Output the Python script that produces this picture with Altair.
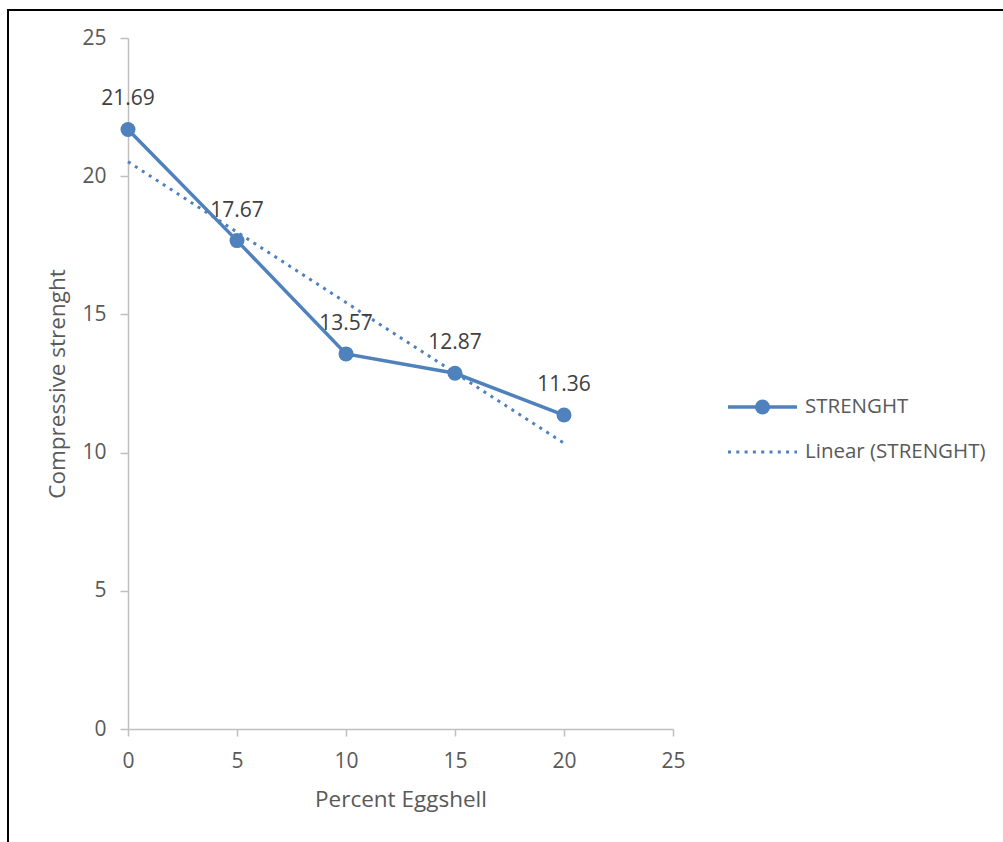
import altair as alt
import pandas as pd

# Compressive strength by eggshell replacement percentage
percent_eggshell = [0, 5, 10, 15, 20]
strength = [21.69, 17.67, 13.57, 12.87, 11.36]
axis_ticks = [0, 5, 10, 15, 20, 25]

BLUE = "#4F81BD"
GREY_TEXT = "#595959"
DARK_TEXT = "#404040"
AXIS_GREY = "#BFBFBF"
FONT = "Open Sans"

W, H = 545, 691
PAD_L, PAD_T = 128, 38
MARKER = 225

df = pd.DataFrame({"pct": percent_eggshell, "strength": strength})

x_enc = alt.X(
    "pct:Q",
    scale=alt.Scale(domain=[0, 25], nice=False),
    axis=alt.Axis(
        values=axis_ticks, title="Percent Eggshell", grid=False,
        domainColor=AXIS_GREY, domainWidth=1.5, tickColor=AXIS_GREY, tickWidth=1.5,
        tickSize=7, labelPadding=14, labelFontSize=21, labelColor=GREY_TEXT,
        labelFont=FONT, titleFont=FONT, titleFontSize=22.5, titleFontWeight="normal",
        titleColor=GREY_TEXT, titlePadding=17, labelFlush=False,
    ),
)
y_enc = alt.Y(
    "strength:Q",
    scale=alt.Scale(domain=[0, 25], nice=False),
    axis=alt.Axis(
        values=axis_ticks, title="Compressive strenght", grid=False,
        domainColor=AXIS_GREY, domainWidth=1.5, tickColor=AXIS_GREY, tickWidth=1.5,
        tickSize=8, labelPadding=14, labelFontSize=21, labelColor=GREY_TEXT,
        labelFont=FONT, titleFont=FONT, titleFontSize=22.5, titleFontWeight="normal",
        titleColor=GREY_TEXT, titlePadding=12, labelFlush=False,
    ),
)

base = alt.Chart(df)

series = base.mark_line(color=BLUE, strokeWidth=3.5).encode(x=x_enc, y=y_enc)
markers = base.mark_point(filled=True, color=BLUE, opacity=1, size=MARKER).encode(
    x="pct:Q", y="strength:Q"
)
labels = base.mark_text(
    dy=-24, baseline="alphabetic", fontSize=21, font=FONT, color=DARK_TEXT
).encode(x="pct:Q", y="strength:Q", text=alt.Text("strength:Q", format=".2f"))

trend = (
    base.transform_regression("pct", "strength", method="linear")
    .mark_line(color=BLUE, strokeWidth=3, strokeDash=[3, 5.3])
    .encode(x="pct:Q", y="strength:Q")
)

# Legend, drawn beside the plot
one = alt.Data(values=[{"k": 1}])
leg_line = alt.Chart(one).mark_rule(color=BLUE, strokeWidth=3.5).encode(
    x=alt.value(600), x2=alt.value(669), y=alt.value(369)
)
leg_dot = alt.Chart(one).mark_point(filled=True, color=BLUE, opacity=1, size=MARKER).encode(
    x=alt.value(634.5), y=alt.value(369)
)
leg_trend = alt.Chart(one).mark_rule(color=BLUE, strokeWidth=3, strokeDash=[3, 5.3]).encode(
    x=alt.value(600), x2=alt.value(669), y=alt.value(414)
)
leg_text1 = alt.Chart(one).mark_text(
    align="left", baseline="middle", fontSize=20.5, font=FONT, color=GREY_TEXT
).encode(x=alt.value(677), y=alt.value(369), text=alt.value("STRENGHT"))
leg_text2 = alt.Chart(one).mark_text(
    align="left", baseline="middle", fontSize=20.5, font=FONT, color=GREY_TEXT
).encode(x=alt.value(677), y=alt.value(414), text=alt.value("Linear (STRENGHT)"))

# Frame lines along the left and top edges
frame_left = alt.Chart(one).mark_rule(color="black", strokeWidth=2).encode(
    x=alt.value(8 - PAD_L), y=alt.value(10 - PAD_T), y2=alt.value(842 - PAD_T)
)
frame_top = alt.Chart(one).mark_rule(color="black", strokeWidth=2).encode(
    x=alt.value(7 - PAD_L), x2=alt.value(1003 - PAD_L), y=alt.value(10 - PAD_T)
)

chart = (
    alt.layer(
        series, trend, markers, labels,
        leg_line, leg_dot, leg_trend, leg_text1, leg_text2,
        frame_left, frame_top,
    )
    .properties(
        width=W, height=H,
        autosize=alt.AutoSizeParams(type="none"),
        padding={"left": PAD_L, "top": PAD_T, "right": 1003 - PAD_L - W, "bottom": 842 - PAD_T - H},
        view=alt.ViewBackground(strokeWidth=0, strokeOpacity=0),
    )
    .configure_view(strokeWidth=0, strokeOpacity=0)
    .configure(background="white")
)

chart.save("out.html", embed_options={"renderer": "svg", "actions": False})
